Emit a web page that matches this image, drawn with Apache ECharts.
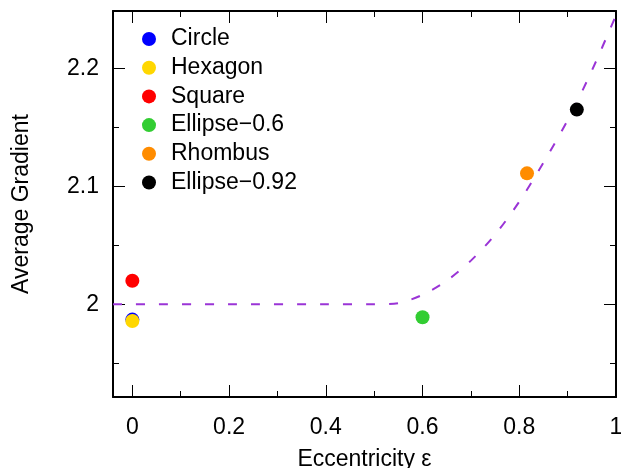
<!DOCTYPE html>
<html>
<head>
    <meta charset="utf-8">
    <title>Average Gradient</title>
    <script src="https://cdn.jsdelivr.net/npm/echarts@6/dist/echarts.min.js"></script>
    <style>
        html, body { margin: 0; padding: 0; background: #fff; }
        #container { width: 621px; height: 468px; }
    </style>
</head>
<body>
<div id="container"></div>
<script>
    // measured shapes: [eccentricity, average gradient]
    var shapeNames = ["Circle", "Hexagon", "Square", "Ellipse\u22120.6", "Rhombus", "Ellipse\u22120.92"];
    var shapeColors = ["#0000ff", "#ffd700", "#ff0000", "#32cd32", "#ff8c00", "#000000"];
    var shapeX = [0, 0, 0, 0.6, 0.816, 0.919];
    var shapeY = [1.987, 1.9858, 2.020, 1.989, 2.111, 2.165];

    // dashed fit curve
    var fitX = [-0.04, 0, 0.2, 0.4, 0.5, 0.55, 0.6, 0.65, 0.7, 0.75, 0.8, 0.85, 0.9, 0.95, 1.0];
    var fitY = [2, 2, 2, 2, 2, 2.001, 2.008, 2.020, 2.037, 2.059, 2.087, 2.120, 2.156, 2.198, 2.245];

    var xTicks = [0, 0.2, 0.4, 0.6, 0.8, 1];
    var yTicks = [2, 2.1, 2.2];
    var xMinor = [0.1, 0.3, 0.5, 0.7, 0.9];
    var yMinor = [1.95, 2.05, 2.15];

    var font = "Liberation Sans";
    var xMin = -0.04, xMax = 1, yMin = 1.9214, yMax = 2.2486;
    var myChart = echarts.init(document.getElementById("container"));

    var series = [];
    series.push({
        name: "fit",
        type: "line",
        data: fitX.map(function (x, i) { return [x, fitY[i]]; }),
        smooth: 0.3,
        showSymbol: false,
        silent: true,
        z: 1,
        lineStyle: { color: "#9a34d6", width: 2, type: [9, 14] }
    });
    for (var i = 0; i < shapeNames.length; i++) {
        series.push({
            name: shapeNames[i],
            type: "scatter",
            symbol: "circle",
            symbolSize: 14,
            z: 3,
            itemStyle: { color: shapeColors[i], opacity: 1 },
            data: [[shapeX[i], shapeY[i]]]
        });
    }

    function tickAxis(min, max, pos, ticks, len, showLine) {
        return {
            type: "value", min: min, max: max, position: pos, offset: 0,
            axisLine: { show: !!showLine, onZero: false, lineStyle: { color: "#000", width: 2 } },
            axisLabel: { show: false },
            splitLine: { show: false },
            axisTick: { show: true, inside: true, length: len, customValues: ticks, lineStyle: { color: "#000", width: 1 } }
        };
    }

    var xMain = tickAxis(xMin, xMax, "bottom", xTicks, 12, true);
    xMain.name = "Eccentricity \u03b5";
    xMain.nameLocation = "middle";
    xMain.nameGap = 51;
    xMain.nameTextStyle = { fontFamily: font, fontSize: 23, color: "#000" };
    xMain.axisLabel = {
        show: true, fontFamily: font, fontSize: 23, color: "#000", margin: 19,
        customValues: xTicks,
        formatter: function (v) { return String(v); }
    };

    var yMain = tickAxis(yMin, yMax, "left", yTicks, 12, true);
    yMain.name = "Average Gradient";
    yMain.nameLocation = "middle";
    yMain.nameGap = 80;
    yMain.nameTextStyle = { fontFamily: font, fontSize: 23, color: "#000" };
    yMain.axisLabel = {
        show: true, fontFamily: font, fontSize: 23, color: "#000", margin: 14,
        customValues: yTicks,
        formatter: function (v) { return String(v); }
    };

    var option = {
        animation: false,
        textStyle: { fontFamily: font },
        grid: { left: 113, right: 5, top: 11, bottom: 71, containLabel: false, outerBoundsMode: "none" },
        legend: {
            orient: "vertical",
            left: 137,
            top: 22,
            icon: "circle",
            itemWidth: 34,
            itemHeight: 14,
            itemGap: 4.7,
            data: shapeNames,
            textStyle: { fontFamily: font, fontSize: 23, color: "#000", lineHeight: 24 }
        },
        xAxis: [
            xMain,
            tickAxis(xMin, xMax, "top", xTicks, 12, true),
            tickAxis(xMin, xMax, "bottom", xMinor, 6),
            tickAxis(xMin, xMax, "top", xMinor, 6)
        ],
        yAxis: [
            yMain,
            tickAxis(yMin, yMax, "right", yTicks, 12, true),
            tickAxis(yMin, yMax, "left", yMinor, 6),
            tickAxis(yMin, yMax, "right", yMinor, 6)
        ],
        series: series
    };

    myChart.setOption(option);
</script>
</body>
</html>
